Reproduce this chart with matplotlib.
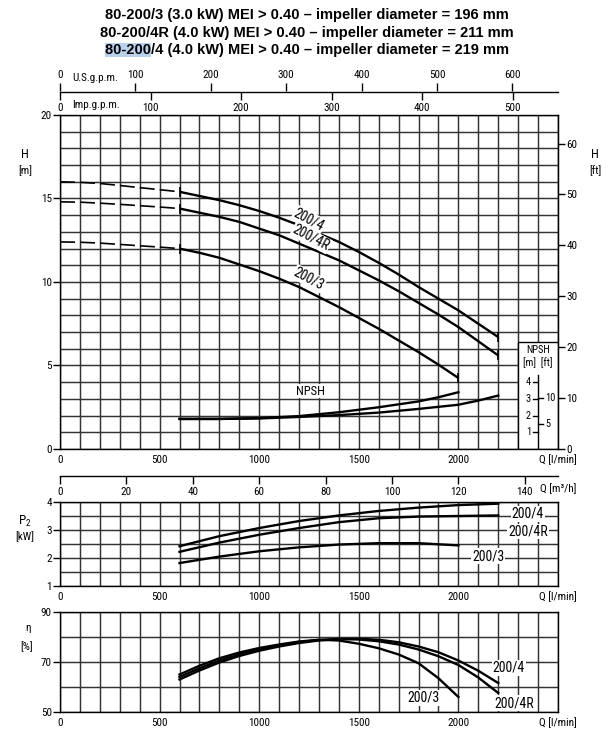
import numpy as np
import matplotlib
matplotlib.use('Agg')
import matplotlib.pyplot as plt
from matplotlib import font_manager
from matplotlib.patches import Rectangle

# ---- data (flow in l/min) ----
q_dash = [0, 100, 200, 300, 400, 500, 600]
h4_dash = [16.0, 15.97, 15.9, 15.78, 15.65, 15.53, 15.4]
h4r_dash = [14.8, 14.78, 14.72, 14.65, 14.57, 14.49, 14.4]
h3_dash = [12.4, 12.38, 12.33, 12.25, 12.17, 12.09, 12.0]

q_long = [600, 700, 800, 900, 1000, 1100, 1200, 1300, 1400, 1500,
          1600, 1700, 1800, 1900, 2000, 2100, 2200]
q_short = q_long[:15]
h4 = [15.4, 15.15, 14.9, 14.6, 14.25, 13.85, 13.4, 12.9, 12.4, 11.8,
      11.15, 10.45, 9.7, 9.0, 8.3, 7.5, 6.7]
h4r = [14.4, 14.15, 13.9, 13.6, 13.2, 12.8, 12.3, 11.8, 11.3, 10.7,
       10.1, 9.45, 8.75, 8.05, 7.3, 6.45, 5.6]
h3 = [12.0, 11.75, 11.45, 11.05, 10.65, 10.2, 9.7, 9.1, 8.5, 7.85,
      7.2, 6.5, 5.8, 5.05, 4.25]

q_npsh_a = [600, 800, 1000, 1200, 1400, 1500, 1600, 1800, 1900, 2000]
npsh_a = [1.8, 1.8, 1.85, 1.97, 2.2, 2.35, 2.5, 2.85, 3.1, 3.4]
q_npsh_b = [600, 800, 1000, 1200, 1400, 1600, 1800, 2000, 2100, 2200]
npsh_b = [1.8, 1.8, 1.83, 1.92, 2.03, 2.18, 2.4, 2.65, 2.9, 3.2]

q_p = [600, 800, 1000, 1200, 1400, 1600, 1800, 2000, 2200]
p4 = [2.42, 2.78, 3.07, 3.32, 3.52, 3.68, 3.8, 3.89, 3.94]
p4r = [2.22, 2.55, 2.83, 3.07, 3.28, 3.42, 3.48, 3.5, 3.52]
p3 = [1.82, 2.05, 2.24, 2.38, 2.48, 2.53, 2.53, 2.45]

eta4 = [63.0, 66.6, 69.8, 72.4, 74.5, 76.2, 77.6, 78.6, 79.2, 79.3,
        78.9, 77.9, 76.2, 73.9, 70.6, 66.5, 61.6]
eta4r = [64.0, 67.5, 70.6, 73.0, 75.0, 76.6, 77.9, 78.8, 79.2, 79.0,
         78.3, 77.0, 75.0, 72.3, 68.8, 63.8, 57.6]
eta3 = [65.0, 68.5, 71.5, 73.8, 75.6, 77.0, 78.2, 78.9, 78.6, 77.3,
        75.5, 73.0, 69.5, 63.5, 56.0]

titles = ["80-200/3 (3.0 kW) MEI > 0.40 \u2013 impeller diameter = 196 mm",
          "80-200/4R (4.0 kW) MEI > 0.40 \u2013 impeller diameter = 211 mm",
          "80-200/4 (4.0 kW) MEI > 0.40 \u2013 impeller diameter = 219 mm"]

usgpm_ticks = [0, 100, 200, 300, 400, 500, 600]
impgpm_ticks = [0, 100, 200, 300, 400, 500]
m3h_ticks = [0, 20, 40, 60, 80, 100, 120, 140]
ft_ticks = [0, 10, 20, 30, 40, 50, 60]
npsh_m_ticks = [1, 2, 3, 4]
npsh_ft_ticks = [5, 10]

# ---- fonts ----
names = {f.name for f in font_manager.fontManager.ttflist}
narrow = 'DejaVu Sans'
for cand in ['Liberation Sans Narrow', 'Roboto Condensed', 'DejaVu Sans Condensed', 'Liberation Sans']:
    if cand in names:
        narrow = cand
        break
plt.rcParams['font.family'] = [narrow, 'DejaVu Sans']
plt.rcParams['mathtext.fontset'] = 'custom'
plt.rcParams['mathtext.rm'] = narrow

GRID = '#333333'
LW = 1.7
TS = 8

W, HP = 610, 748
fig = plt.figure(figsize=(W / 100, HP / 100), dpi=100)


def box(x0, y0, x1, y1):
    return [x0 / W, 1 - y1 / HP, (x1 - x0) / W, (y1 - y0) / HP]


def style_chart(ax, ylim, ymajor, yminor):
    ax.set_xlim(0, 2500)
    ax.set_ylim(*ylim)
    ax.set_xticks([0, 500, 1000, 1500, 2000, 2500])
    ax.set_xticklabels(['0', '500', '1000', '1500', '2000', 'Q [l/min]'])
    ax.set_xticks(np.arange(0, 2501, 100), minor=True)
    ax.set_yticks(ymajor)
    ax.set_yticks(yminor, minor=True)
    ax.grid(True, which='both', color=GRID, lw=1.05)
    ax.set_axisbelow(True)
    ax.tick_params(axis='x', which='both', length=0, pad=4, labelsize=TS)
    ax.tick_params(axis='y', which='major', length=5, width=1, direction='out',
                   pad=1, labelsize=TS)
    ax.tick_params(axis='y', which='minor', length=0)
    for s in ax.spines.values():
        s.set_color('black')
        s.set_linewidth(1.0)


# ---- H chart ----
axH = fig.add_axes(box(60, 115, 558, 449))
style_chart(axH, (0, 20), [0, 5, 10, 15, 20], np.arange(0, 21, 1))
dash = (0, (9, 3))
for qd, hd, qs, hs in [(q_dash, h4_dash, q_long, h4),
                       (q_dash, h4r_dash, q_long, h4r),
                       (q_dash, h3_dash, q_short, h3)]:
    axH.plot(qd, hd, color='k', lw=1.2, ls=dash, zorder=3)
    axH.plot(qs, hs, color='k', lw=LW, zorder=3, solid_capstyle='butt')
    axH.plot([qs[0], qs[-1]], [hs[0], hs[-1]], ls='none', marker='|',
             ms=7, mew=1.2, color='k', zorder=3)
axH.plot(q_npsh_a, npsh_a, color='k', lw=LW, zorder=3)
axH.plot(q_npsh_b, npsh_b, color='k', lw=LW, zorder=3)

lab = dict(fontsize=10, ha='center', va='center', rotation=-28, zorder=4,
           bbox=dict(fc='white', ec='none', pad=0.6))
axH.text(1250, 13.75, '200/4', **lab)
axH.text(1260, 12.65, '200/4R', **lab)
axH.text(1250, 10.2, '200/3', **lab)
axH.text(1255, 3.08, 'NPSH', fontsize=9, ha='center', va='bottom', zorder=4,
         bbox=dict(fc='white', ec='none', pad=0.3))

# NPSH scale inset
axH.add_patch(Rectangle((2300, 0), 200, 6.4, fc='white', ec='black', lw=1.0, zorder=2.5))
axH.plot([2400, 2400], [0, 4.43], color='k', lw=1.0, zorder=3)
for m in npsh_m_ticks:
    axH.plot([2375, 2400], [m, m], color='k', lw=1.0, zorder=3)
    axH.text(2365, m, str(m), fontsize=7.5, ha='right', va='center', zorder=3)
for f in npsh_ft_ticks:
    axH.plot([2400, 2425], [f * 0.3048] * 2, color='k', lw=1.0, zorder=3)
    axH.text(2435, f * 0.3048, str(f), fontsize=7.5, ha='left', va='center', zorder=3)
axH.text(2400, 5.9, 'NPSH', fontsize=7.5, ha='center', va='center', zorder=3)
axH.text(2400, 5.15, '[m]  [ft]', fontsize=7.5, ha='center', va='center', zorder=3)

secH = axH.secondary_yaxis('right', functions=(lambda m: m / 0.3048, lambda f: f * 0.3048))
secH.set_yticks(ft_ticks)
secH.tick_params(length=5, width=1, pad=1, labelsize=TS)
fig.text(25 / W, 1 - 155 / HP, 'H', fontsize=9, ha='center', va='center')
fig.text(25 / W, 1 - 171 / HP, '[m]', fontsize=8, ha='center', va='center')
fig.text(595 / W, 1 - 155 / HP, 'H', fontsize=9, ha='center', va='center')
fig.text(595 / W, 1 - 171 / HP, '[ft]', fontsize=8, ha='center', va='center')

# ---- gpm scales ----
axG = fig.add_axes(box(60, 91, 558, 92))
axG.set_xlim(0, 2500)
axG.set_ylim(0, 1)
axG.patch.set_visible(False)
for s in ['top', 'left', 'right']:
    axG.spines[s].set_visible(False)
axG.spines['bottom'].set_linewidth(1.0)
axG.set_yticks([])
axG.set_xticks([g * 4.54609 for g in impgpm_ticks])
axG.set_xticklabels([str(g) for g in impgpm_ticks])
axG.tick_params(axis='x', length=6, width=1, pad=2, labelsize=TS)
secG = axG.secondary_xaxis('top', functions=(lambda q: q / 3.78541, lambda g: g * 3.78541))
secG.set_xticks(usgpm_ticks)
secG.spines['top'].set_visible(False)
secG.tick_params(length=6, width=1, pad=2, labelsize=TS)
fig.text(72 / W, 1 - 78 / HP, 'U.S.g.p.m.', fontsize=8, ha='left', va='center')
fig.text(72 / W, 1 - 105 / HP, 'Imp.g.p.m.', fontsize=8, ha='left', va='center')

# ---- m3/h scale ----
axM = fig.add_axes(box(60, 475, 558, 476))
axM.set_xlim(0, 2500)
axM.set_ylim(0, 1)
axM.patch.set_visible(False)
for s in ['top', 'left', 'right']:
    axM.spines[s].set_visible(False)
axM.spines['bottom'].set_linewidth(1.0)
axM.set_yticks([])
axM.set_xticks([v * 1000 / 60 for v in m3h_ticks])
axM.set_xticklabels([str(v) for v in m3h_ticks])
axM.tick_params(axis='x', length=6, width=1, pad=2, labelsize=TS)
fig.text(558 / W, 1 - 489 / HP, 'Q [m\u00b3/h]', fontsize=TS, ha='center', va='center')

# ---- P2 chart ----
axP = fig.add_axes(box(60, 502, 558, 586))
style_chart(axP, (1, 4), [1, 2, 3, 4], np.arange(1, 4.01, 0.5))
axP.plot(q_p, p4, color='k', lw=LW, zorder=3)
axP.plot(q_p, p4r, color='k', lw=LW, zorder=3)
axP.plot(q_p[:8], p3, color='k', lw=LW, zorder=3)
plab = dict(fontsize=10, ha='center', va='center', zorder=4,
            bbox=dict(fc='white', ec='none', pad=0.6))
axP.text(2349, 3.58, '200/4', **plab)
axP.text(2349, 2.95, '200/4R', **plab)
axP.text(2149, 2.07, '200/3', **plab)
fig.text(25 / W, 1 - 521 / HP, r'P$_{\mathregular{2}}$', fontsize=9.5, ha='center', va='center')
fig.text(25 / W, 1 - 537 / HP, '[kW]', fontsize=8, ha='center', va='center')

# ---- efficiency chart ----
axE = fig.add_axes(box(60, 612, 558, 712))
style_chart(axE, (50, 90), [50, 70, 90], [60, 80])
axE.plot(q_long, eta4, color='k', lw=LW, zorder=3)
axE.plot(q_long, eta4r, color='k', lw=LW, zorder=3)
axE.plot(q_short, eta3, color='k', lw=LW, zorder=3)
axE.text(2254, 67.6, '200/4', **plab)
axE.text(2279, 53.6, '200/4R', **plab)
axE.text(1827, 55.6, '200/3', **plab)
fig.text(28 / W, 1 - 628 / HP, '\u03b7', fontsize=8, ha='center', va='center')
fig.text(27 / W, 1 - 647 / HP, '[%]', fontsize=8, ha='center', va='center')

# ---- titles ----
title_objs = []
for i, t in enumerate(titles):
    title_objs.append(fig.text(0.503, 1 - (15 + 17.5 * i) / HP, t, fontsize=10.5,
                               fontweight='bold', family=['Liberation Sans', 'DejaVu Sans'],
                               ha='center', va='center'))
fig.canvas.draw()
r = fig.canvas.get_renderer()
bb = title_objs[2].get_window_extent(r)
probe = fig.text(0, 0, '80-200', fontsize=10.5, fontweight='bold',
                 family=['Liberation Sans', 'DejaVu Sans'])
pw = probe.get_window_extent(r).width
probe.remove()
fig.patches.append(Rectangle((bb.x0 / W, bb.y0 / HP), pw / W, bb.height / HP,
                             transform=fig.transFigure, fc='#b9d1ea', ec='none',
                             zorder=-1, figure=fig))

fig.savefig('out.png', dpi=100)
